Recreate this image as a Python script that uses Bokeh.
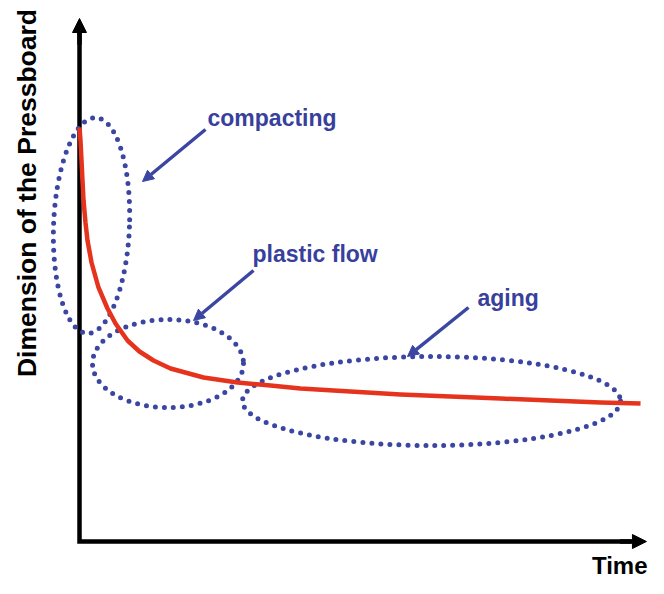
from bokeh.plotting import figure
from bokeh.models import Range1d, Arrow, NormalHead, ColumnDataSource
from bokeh.core.properties import value
from bokeh.embed import file_html
from bokeh.resources import INLINE

# ---- data (axes run 0..100 in arbitrary units) ----
time = [0.0, 0.17, 0.35, 0.52, 0.70, 1.04, 1.39, 2.09, 3.30, 4.87, 6.26, 8.35,
        10.43, 12.87, 15.83, 21.57, 27.48, 33.22, 38.43, 47.13, 55.83, 64.52,
        73.22, 81.91, 90.61, 97.57]
dimension = [79.16, 76.67, 72.85, 69.02, 65.20, 60.99, 57.55, 53.35, 48.57, 44.55,
             41.68, 38.43, 36.33, 34.61, 33.08, 31.36, 30.40, 29.83, 29.25, 28.68,
             28.11, 27.72, 27.34, 26.96, 26.58, 26.39]

region_names = ["compacting", "plastic flow", "aging"]
region_t = [2.09, 15.39, 61.22]
region_d = [60.42, 34.03, 26.86]
region_w = [13.2, 26.26, 65.74]
region_h = [41.3, 16.83, 17.02]
region_angle = [-0.04, 0.0, 0.0]

label_t = [22.26, 30.09, 69.22]
label_d = [81.07, 54.88, 46.65]
arrow_t0 = [21.91, 30.26, 67.65]
arrow_d0 = [78.78, 51.82, 44.74]
arrow_t1 = [10.96, 19.83, 57.04]
arrow_d1 = [68.83, 42.26, 35.37]

x_title = "Time"
y_title = "Dimension of the Pressboard"

BLUE = "#3a46a2"
TEXT_BLUE = "#383f9c"
RED = "#e5331e"

W, H = 648, 578
SX, SY, OX, OY = 5.75, 5.23, 79, 541   # pixels per unit, origin pixel
p = figure(width=W, height=H, output_backend="svg", toolbar_location=None,
           x_range=Range1d(-OX / SX, (W - OX) / SX),
           y_range=Range1d(-(H - OY) / SY, OY / SY),
           x_axis_type=None, y_axis_type=None, min_border=0,
           outline_line_color=None, background_fill_color="white",
           border_fill_color="white")
p.xgrid.visible = False
p.ygrid.visible = False

# axes (with arrow heads)
p.line(x=[0, 0, 96], y=[98, 0, 0], line_color="black", line_width=4.5,
       line_join="miter")
p.add_layout(Arrow(end=NormalHead(size=14, fill_color="black", line_color="black"),
                   x_start=0, y_start=95, x_end=0, y_end=100,
                   line_color="black", line_width=4.5))
p.add_layout(Arrow(end=NormalHead(size=14, fill_color="black", line_color="black"),
                   x_start=94, y_start=0, x_end=98.6, y_end=0,
                   line_color="black", line_width=4.5))

# dotted region ellipses
esrc = ColumnDataSource(dict(x=region_t, y=region_d, w=region_w, h=region_h,
                             a=region_angle))
p.ellipse(x="x", y="y", width="w", height="h", angle="a", source=esrc,
          fill_color=None, line_color=BLUE, line_width=5, line_dash="0 9",
          line_cap="round")

# curve
p.line(x=time, y=dimension, line_color=RED, line_width=4.5, line_join="round")

# arrows pointing at regions
for t0, d0, t1, d1 in zip(arrow_t0, arrow_d0, arrow_t1, arrow_d1):
    p.add_layout(Arrow(end=NormalHead(size=11, fill_color=BLUE, line_color=BLUE),
                       x_start=t0, y_start=d0, x_end=t1, y_end=d1,
                       line_color=BLUE, line_width=3.5))

# region labels
p.text(x=label_t, y=label_d, text=region_names, text_color=TEXT_BLUE,
       text_font=value("Liberation Sans"), text_font_style="bold",
       text_font_size="23px", text_align="left", text_baseline="alphabetic")

# axis titles
p.text(x=[98.78], y=[-4.59], text=[x_title], text_color="black",
       text_font=value("Liberation Sans"), text_font_style="bold",
       text_font_size="24px", text_align="right", text_baseline="alphabetic")
p.text(x=[-9.1], y=[66.63], text=[y_title], text_color="black", angle=1.5708,
       text_font=value("Liberation Sans"), text_font_style="bold",
       text_font_size="26.5px", text_align="center", text_baseline="alphabetic")

open("out.html", "w").write(file_html(p, INLINE))
